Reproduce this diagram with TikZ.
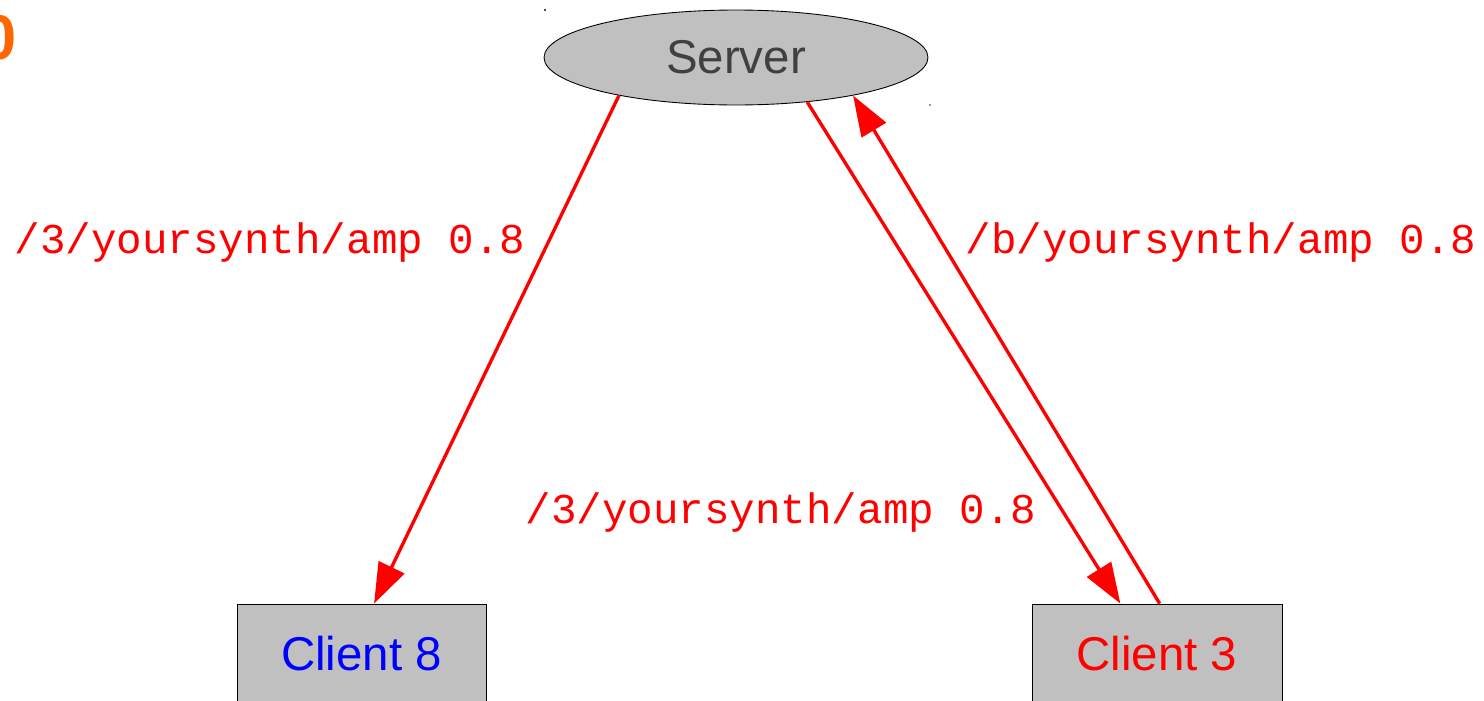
\documentclass[tikz,border=0pt]{standalone}
\usepackage{fontspec}
\setmainfont{Liberation Sans}
\setmonofont{Liberation Mono}
\usetikzlibrary{shapes.geometric, arrows.meta}

\definecolor{boxgray}{HTML}{C0C0C0}
\definecolor{txtgray}{HTML}{404040}
\definecolor{mark}{HTML}{FF6600}

\begin{document}
\begin{tikzpicture}[x=0.02cm, y=-0.02cm,
  host/.style={draw, fill=boxgray, line width=0.5pt, inner sep=0pt,
               font=\fontsize{27}{32}\selectfont},
  msg/.style={red, font=\ttfamily\fontsize{24.2}{28}\selectfont},
  link/.style={red, line width=1.9pt, -{Triangle[length=23pt, width=16pt]}}]
\clip (0,0) rectangle (1484,700);
\useasboundingbox (0,0) rectangle (1484,700);

% Server
\node (srv) [host, ellipse, minimum width=7.68cm, minimum height=1.9cm, text=txtgray] at (736, 57.5) {Server};

% Clients
\node (c8) [host, rectangle, minimum width=4.98cm, minimum height=2cm, text=blue] at (361.5, 654) {Client 8};
\node (c3) [host, rectangle, minimum width=5.0cm, minimum height=2cm, text=red] at (1157, 654) {Client 3};

% Messages
\node (m1) [msg] at (270, 243) {/3/yoursynth/amp 0.8};
\node (m2) [msg] at (1221, 243) {/b/yoursynth/amp 0.8};
\node (m3) [msg] at (781, 512) {/3/yoursynth/amp 0.8};

% Connections
\draw [link] (srv.198) -- (c8.76);
\draw [link] (srv.328) -- (c3.126);
\draw [link] (c3.87) -- (srv.342);

% Corner mark
\node (mk) [anchor=east, inner sep=0pt, text=mark, font=\bfseries\fontsize{36}{40}\selectfont] at (17, 38) {0};

% Handles
\fill [black!70] (544,9) rectangle (546,11);
\fill [black!40] (929,104) rectangle (931,106);

\end{tikzpicture}
\end{document}
